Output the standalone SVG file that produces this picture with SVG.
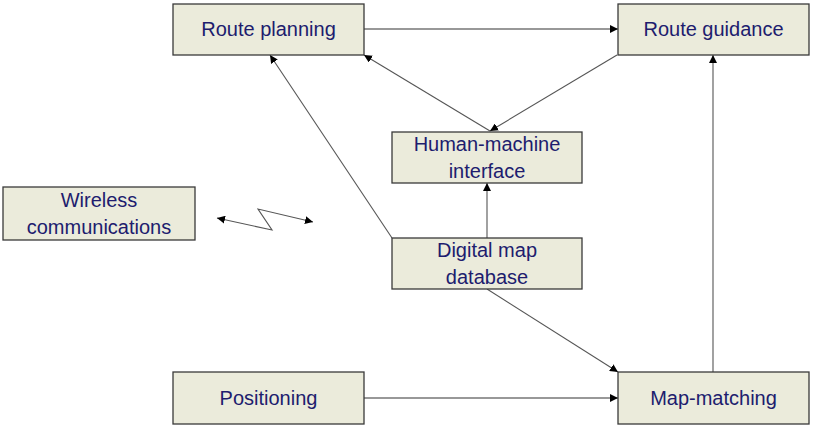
<svg xmlns="http://www.w3.org/2000/svg" width="817" height="432" viewBox="0 0 817 432">
<defs>
<marker id="arr" viewBox="0 0 10 10" refX="10" refY="5" markerWidth="8" markerHeight="8" markerUnits="userSpaceOnUse" orient="auto-start-reverse">
<path d="M0,0 L10,5 L0,10 z" fill="#000"/>
</marker>
<style>
.box{fill:#EBEBDB;stroke:#3a3a3a;stroke-width:1.3}
.t{font-family:"Liberation Sans",Arial,sans-serif;font-size:20px;fill:#201C6E;text-anchor:middle}
.c{fill:none;stroke:#333;stroke-width:1.1}
.g{fill:none;stroke:#555;stroke-width:1.1}
</style>
</defs>
<rect width="817" height="432" fill="#fff"/>
<g id="connectors">
<line class="c" x1="364" y1="29" x2="618" y2="29" marker-end="url(#arr)"/>
<line class="g" x1="617" y1="55" x2="490" y2="131" marker-end="url(#arr)"/>
<line class="g" x1="490" y1="131" x2="364" y2="55" marker-end="url(#arr)"/>
<line class="g" x1="392" y1="238" x2="270" y2="55" marker-end="url(#arr)"/>
<line class="g" x1="487" y1="238" x2="487" y2="183" marker-end="url(#arr)"/>
<line class="g" x1="487" y1="289" x2="618" y2="372" marker-end="url(#arr)"/>
<line class="c" x1="364" y1="398" x2="618" y2="398" marker-end="url(#arr)"/>
<line class="g" x1="713" y1="372" x2="713" y2="55" marker-end="url(#arr)"/>
<polyline class="g" points="217,218 272,230 258,209 313,222" marker-start="url(#arr)" marker-end="url(#arr)"/>
</g>
<g id="route-planning"><rect class="box" x="173" y="4" width="191" height="51"/><text class="t" x="268.5" y="36">Route planning</text></g>
<g id="route-guidance"><rect class="box" x="618" y="4" width="191" height="51"/><text class="t" x="713.5" y="36">Route guidance</text></g>
<g id="hmi"><rect class="box" x="392" y="132" width="190" height="51"/><text class="t" x="487" y="151">Human-machine</text><text class="t" x="487" y="178">interface</text></g>
<g id="wireless"><rect class="box" x="3" y="187" width="192" height="53"/><text class="t" x="99" y="207">Wireless</text><text class="t" x="99" y="234">communications</text></g>
<g id="digital-map"><rect class="box" x="392" y="238" width="190" height="51"/><text class="t" x="487" y="257">Digital map</text><text class="t" x="487" y="284">database</text></g>
<g id="positioning"><rect class="box" x="173" y="372" width="191" height="52"/><text class="t" x="268.5" y="405">Positioning</text></g>
<g id="map-matching"><rect class="box" x="618" y="372" width="191" height="52"/><text class="t" x="713.5" y="405">Map-matching</text></g>
</svg>
